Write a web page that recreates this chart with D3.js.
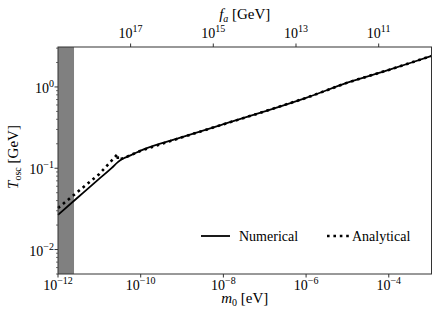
<!DOCTYPE html>
<meta charset="utf-8">
<style>
  body { margin: 0; background: #fff; }
  svg { font-family: "Liberation Serif", "DejaVu Serif", serif; }
</style>
<svg width="441" height="319"></svg>
<script src="https://d3js.org/d3.v7.min.js"></script>
<script>

// axion mass m0 [eV] and oscillation temperature [GeV]
var numM = [1e-12, 3e-12, 1e-11, 2e-11, 2.8e-11, 3.5e-11, 4.5e-11, 6e-11, 1e-10, 1e-9, 1e-8, 1e-7, 1e-6, 1e-5, 1e-4, 1e-3, 1.08e-3];
var numT = [0.0267, 0.0436, 0.0745, 0.101, 0.119, 0.129, 0.137, 0.146, 0.165, 0.241, 0.348, 0.50, 0.734, 1.13, 1.62, 2.37, 2.40];

var anaM = [1e-12, 1e-11, 2.78e-11, 2.8e-11, 4e-11, 1e-10, 1e-9, 1e-8, 1e-7, 1e-6, 1e-5, 1e-4, 1e-3, 1.08e-3];
var anaT = [0.0324, 0.085, 0.150, 0.127, 0.134, 0.164, 0.240, 0.347, 0.50, 0.733, 1.13, 1.62, 2.37, 2.40];

// excluded band at small mass
var bandM = [1e-12, 2.44e-12];

var xTicks = [1e-12, 1e-10, 1e-8, 1e-6, 1e-4];
var yTicks = [1e-2, 1e-1, 1e0];
var faTicks = [1e17, 1e15, 1e13, 1e11];
var mfProduct = 5.7e6; // m0 * f_a in eV*GeV

var svg = d3.select("svg"),
    pLeft = 58, pRight = 431.5, pTop = 47, pBottom = 274;

var x = d3.scaleLog().domain([1e-12, 1.08e-3]).range([pLeft, pRight]);
var y = d3.scaleLog().domain([5e-3, 3.1]).range([pBottom, pTop]);

function sup(sel, base, exp) {
    sel.append("tspan").text(base);
    sel.append("tspan").attr("dy", -6).attr("font-size", 10).text(exp);
}

// grey band
svg.append("rect")
    .attr("x", x(bandM[0]))
    .attr("y", pTop)
    .attr("width", x(bandM[1]) - x(bandM[0]))
    .attr("height", pBottom - pTop)
    .attr("fill", "#808080");

var line = d3.line()
    .x(function(d) { return x(d[0]); })
    .y(function(d) { return y(d[1]); });

svg.append("path")
    .datum(d3.zip(numM, numT))
    .attr("d", line.curve(d3.curveMonotoneX))
    .attr("fill", "none")
    .attr("stroke", "#000")
    .attr("stroke-width", 1.8);

svg.append("path")
    .datum(d3.zip(anaM, anaT))
    .attr("d", line.curve(d3.curveLinear))
    .attr("fill", "none")
    .attr("stroke", "#000")
    .attr("stroke-width", 2.6)
    .attr("stroke-dasharray", "2.6,3.8");

// frame
svg.append("rect")
    .attr("x", pLeft).attr("y", pTop)
    .attr("width", pRight - pLeft).attr("height", pBottom - pTop)
    .attr("fill", "none").attr("stroke", "#333").attr("stroke-width", 1);

// bottom axis
var xt = svg.append("g").selectAll("g").data(xTicks).enter().append("g");
xt.append("line")
    .attr("x1", function(d) { return x(d); }).attr("x2", function(d) { return x(d); })
    .attr("y1", pBottom).attr("y2", pBottom + 3.5)
    .attr("stroke", "#333");
xt.append("text")
    .attr("x", function(d) { return x(d); })
    .attr("y", 290)
    .attr("text-anchor", "middle")
    .attr("font-size", 14)
    .each(function(d) { sup(d3.select(this), "10", "\u2212" + (-Math.round(Math.log10(d)))); });

// top axis (f_a)
var ft = svg.append("g").selectAll("g").data(faTicks).enter().append("g");
ft.append("line")
    .attr("x1", function(d) { return x(mfProduct / d); }).attr("x2", function(d) { return x(mfProduct / d); })
    .attr("y1", pTop).attr("y2", pTop - 3.5)
    .attr("stroke", "#333");
ft.append("text")
    .attr("x", function(d) { return x(mfProduct / d); })
    .attr("y", 38)
    .attr("text-anchor", "middle")
    .attr("font-size", 14)
    .each(function(d) { sup(d3.select(this), "10", Math.round(Math.log10(d))); });

// left axis, major and minor ticks
var minor = [];
[-3, -2, -1, 0].forEach(function(e) {
    for (var k = 2; k <= 9; k++) {
        var v = k * Math.pow(10, e);
        if (v >= 5e-3 && v <= 3.1) minor.push(v);
    }
});
svg.append("g").selectAll("line").data(minor).enter().append("line")
    .attr("x1", pLeft).attr("x2", pLeft - 2)
    .attr("y1", function(d) { return y(d); }).attr("y2", function(d) { return y(d); })
    .attr("stroke", "#333").attr("stroke-width", 0.7);

var yt = svg.append("g").selectAll("g").data(yTicks).enter().append("g");
yt.append("line")
    .attr("x1", pLeft).attr("x2", pLeft - 3.5)
    .attr("y1", function(d) { return y(d); }).attr("y2", function(d) { return y(d); })
    .attr("stroke", "#333");
yt.append("text")
    .attr("x", 54)
    .attr("y", function(d) { return y(d) + 6; })
    .attr("text-anchor", "end")
    .attr("font-size", 14)
    .each(function(d) {
        var e = Math.round(Math.log10(d));
        sup(d3.select(this), "10", e < 0 ? "\u2212" + (-e) : e);
    });

// axis labels
var xl = svg.append("text")
    .attr("x", (pLeft + pRight) / 2).attr("y", 303)
    .attr("text-anchor", "middle").attr("font-size", 15);
xl.append("tspan").attr("font-style", "italic").text("m");
xl.append("tspan").attr("font-size", 10).attr("dy", 3).text("0");
xl.append("tspan").attr("dy", -3).text(" [eV]");

var tl = svg.append("text")
    .attr("x", (pLeft + pRight) / 2).attr("y", 19)
    .attr("text-anchor", "middle").attr("font-size", 15);
tl.append("tspan").attr("font-style", "italic").text("f");
tl.append("tspan").attr("font-size", 10).attr("font-style", "italic").attr("dy", 3).text("a");
tl.append("tspan").attr("dy", -3).text(" [GeV]");

var yl = svg.append("text")
    .attr("transform", "translate(18,157) rotate(-90)")
    .attr("text-anchor", "middle").attr("font-size", 15);
yl.append("tspan").attr("font-style", "italic").text("T");
yl.append("tspan").attr("font-size", 10).attr("dy", 3).text("osc");
yl.append("tspan").attr("dy", -3).text(" [GeV]");

// legend
var legend = svg.append("g").attr("font-size", 14);
legend.append("line")
    .attr("x1", 201).attr("x2", 230).attr("y1", 236).attr("y2", 236)
    .attr("stroke", "#000").attr("stroke-width", 1.8);
legend.append("text").attr("x", 239).attr("y", 241).text("Numerical");
legend.append("line")
    .attr("x1", 327).attr("x2", 349).attr("y1", 236).attr("y2", 236)
    .attr("stroke", "#000").attr("stroke-width", 2.6)
    .attr("stroke-dasharray", "2.6,3.8");
legend.append("text").attr("x", 352).attr("y", 241).text("Analytical");

</script>
